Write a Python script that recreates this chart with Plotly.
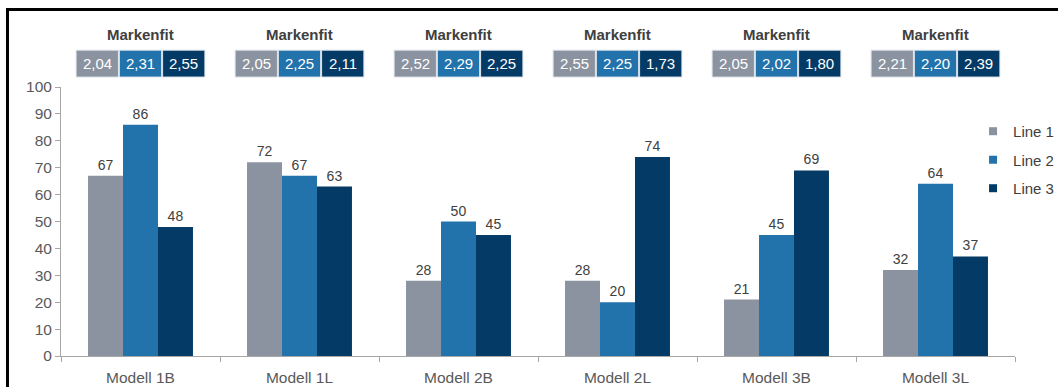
import plotly.graph_objects as go

# Chart data
categories = ["Modell 1B", "Modell 1L", "Modell 2B", "Modell 2L", "Modell 3B", "Modell 3L"]
series_names = ["Line 1", "Line 2", "Line 3"]
line1 = [67, 72, 28, 28, 21, 32]
line2 = [86, 67, 50, 20, 45, 64]
line3 = [48, 63, 45, 74, 69, 37]

# Markenfit scores shown above each group
markenfit1 = [2.04, 2.05, 2.52, 2.55, 2.05, 2.21]
markenfit2 = [2.31, 2.25, 2.29, 2.25, 2.02, 2.20]
markenfit3 = [2.55, 2.11, 2.25, 1.73, 1.80, 2.39]
markenfit_title = "Markenfit"

colors = ["#8A939F", "#2273AC", "#033B66"]
text_color = "#404040"
tick_color = "#595959"
axis_color = "#A6A6A6"
font_family = "Liberation Sans, Arial, sans-serif"

fig = go.Figure()

for name, vals, col in zip(series_names, [line1, line2, line3], colors):
    fig.add_trace(go.Bar(
        x=categories, y=vals, name=name,
        marker=dict(color=col, line=dict(width=0)),
        text=[str(v) for v in vals], textposition="outside",
        textfont=dict(size=14, color=text_color, family=font_family),
        cliponaxis=False, showlegend=False,
    ))
    # small square legend entry
    fig.add_trace(go.Scatter(
        x=[None], y=[None], mode="markers", name=name,
        marker=dict(symbol="square", size=8, color=col),
        legendgroup=name,
    ))

# Markenfit header boxes
box_w = 0.266
box_gap = 0.006
box_bottom, box_top = 1.037, 1.137
shapes = []
annotations = []
for i, cat in enumerate(categories):
    annotations.append(dict(
        x=i, y=1.195, xref="x", yref="paper", text="<b>%s</b>" % markenfit_title,
        showarrow=False, font=dict(size=15, color=text_color, family=font_family),
        xanchor="center", yanchor="middle",
    ))
    for j, (vals, col) in enumerate(zip([markenfit1, markenfit2, markenfit3], colors)):
        x0 = i - 0.405 + j * (box_w + box_gap)
        x1 = x0 + box_w
        shapes.append(dict(
            type="rect", xref="x", yref="paper", x0=x0, x1=x1,
            y0=box_bottom, y1=box_top, fillcolor=col,
            line=dict(color="#DDE3EA", width=1), layer="above",
        ))
        annotations.append(dict(
            x=(x0 + x1) / 2, y=(box_bottom + box_top) / 2, xref="x", yref="paper",
            text=("%.2f" % vals[i]).replace(".", ","), showarrow=False,
            font=dict(size=15, color="white", family=font_family),
            xanchor="center", yanchor="middle",
        ))

# Black frame around the chart
shapes.append(dict(
    type="rect", xref="paper", yref="paper",
    x0=-0.0561, x1=1.06, y0=-0.3, y1=1.2878,
    line=dict(color="black", width=3), fillcolor="rgba(0,0,0,0)", layer="above",
))

fig.update_layout(
    width=1058, height=387,
    margin=dict(l=61, r=43, t=87, b=31, autoexpand=False),
    paper_bgcolor="white", plot_bgcolor="white",
    barmode="group", bargap=0.34, bargroupgap=0,
    font=dict(family=font_family, color=text_color, size=14),
    shapes=shapes, annotations=annotations,
    legend=dict(
        xref="container", x=0.9197, xanchor="left",
        y=0.896, yanchor="top",
        font=dict(size=15, color=text_color, family=font_family),
        tracegroupgap=6, bgcolor="rgba(0,0,0,0)",
    ),
    xaxis=dict(
        type="category", range=[-0.5, 5.5], showline=True, linecolor=axis_color,
        linewidth=1, ticks="outside", tickson="boundaries", ticklen=5,
        tickcolor=axis_color, showgrid=False, zeroline=False,
        ticklabelstandoff=7,
        tickfont=dict(size=15.5, color=tick_color, family=font_family),
    ),
    yaxis=dict(
        range=[0, 100], dtick=10, showline=True, linecolor=axis_color,
        linewidth=1, ticks="outside", ticklen=5, tickcolor=axis_color,
        showgrid=False, zeroline=False,
        tickfont=dict(size=15.5, color=tick_color, family=font_family),
    ),
)

fig.write_html("out.html")
